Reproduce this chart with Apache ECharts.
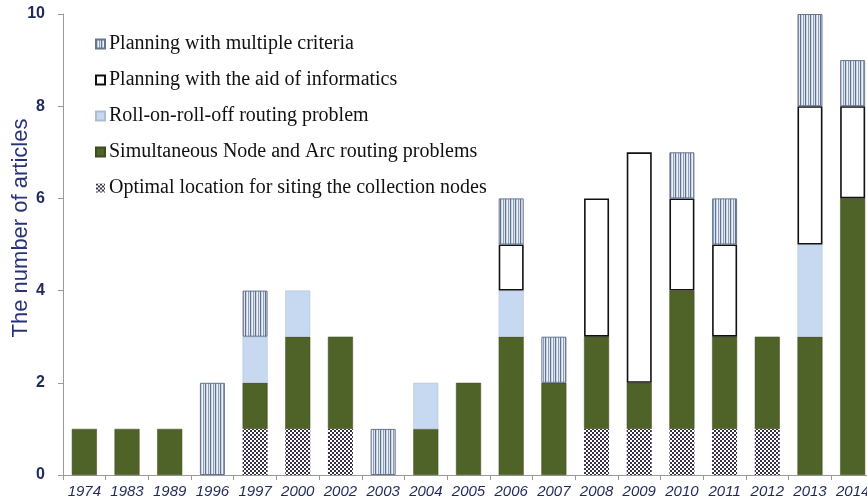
<!DOCTYPE html>
<html>
<head>
<meta charset="utf-8">
<script src="https://cdn.jsdelivr.net/npm/echarts@6/dist/echarts.min.js"></script>
<style>
  html, body { margin: 0; padding: 0; background: #fff; }
  #chart { width: 867px; height: 499px; }
</style>
</head>
<body>
<div id="chart"></div>
<script>
// Publication years (categories along the x axis)
const years = ['1974','1983','1989','1996','1997','2000','2002','2003','2004','2005',
               '2006','2007','2008','2009','2010','2011','2012','2013','2014'];

// Number of articles per research topic and year (stacked bottom to top)
const optimalLocation = [0,0,0,0,1,1,1,0,0,0,0,0,1,1,1,1,1,0,0];
const nodeArcRouting  = [1,1,1,0,1,2,2,0,1,2,3,2,2,1,3,2,2,3,6];
const rollOnRollOff   = [0,0,0,0,1,1,0,0,1,0,1,0,0,0,0,0,0,2,0];
const informatics     = [0,0,0,0,0,0,0,0,0,0,1,0,3,5,2,2,0,3,2];
const multiCriteria   = [0,0,0,2,1,0,0,1,0,0,1,1,0,0,1,1,0,2,1];

const yTicks = [0, 2, 4, 6, 8, 10];
const yTitle = 'The number of articles';

// Fill patterns
function stripePattern() {
  const c = document.createElement('canvas');
  c.width = 5; c.height = 4;
  const g = c.getContext('2d');
  const cols = ['#61728f', '#c9d4e4', '#eef2f8', '#8e9eb8', '#dde5f0'];
  cols.forEach((col, i) => { g.fillStyle = col; g.fillRect(i, 0, 1, 4); });
  return { image: c, repeat: 'repeat' };
}
function checkerPattern() {
  const c = document.createElement('canvas');
  c.width = 4; c.height = 4;
  const g = c.getContext('2d');
  g.fillStyle = '#ffffff'; g.fillRect(0, 0, 4, 4);
  g.fillStyle = '#3a3049';
  g.fillRect(0, 0, 2, 2); g.fillRect(2, 2, 2, 2);
  return { image: c, repeat: 'repeat' };
}

const BAR_W = 25;
function barSeries(name, data, style) {
  return {
    name: name,
    type: 'bar',
    stack: 'total',
    barWidth: BAR_W,
    data: data.map(v => v === 0 ? '-' : v),
    itemStyle: style,
    emphasis: { disabled: true }
  };
}

const chart = echarts.init(document.getElementById('chart'), null, { renderer: 'canvas' });

const series = [
  barSeries('Optimal location for siting the collection nodes', optimalLocation,
    { color: checkerPattern(), borderWidth: 0 }),
  barSeries('Simultaneous Node and Arc routing problems', nodeArcRouting,
    { color: '#4f6228', borderColor: '#3e4f1e', borderWidth: 0.5 }),
  barSeries('Roll-on-roll-off routing problem', rollOnRollOff,
    { color: '#c6d9f1', borderColor: '#aebdd0', borderWidth: 0.5 }),
  barSeries('Planning with the aid of informatics', informatics,
    { color: '#ffffff', borderColor: '#111111', borderWidth: 1.6 }),
  barSeries('Planning with multiple criteria', multiCriteria,
    { color: stripePattern(), borderColor: '#66758c', borderWidth: 1 })
];

chart.setOption({
  animation: false,
  backgroundColor: '#ffffff',
  // plot area runs past the right edge, so the last bar is cut off
  grid: { left: 63, right: -7, top: 14, bottom: 24, containLabel: false, outerBoundsMode: 'none' },
  // vertical y-axis title
  graphic: [{
    type: 'text',
    x: 21,
    y: 228,
    rotation: Math.PI / 2,
    style: {
      text: yTitle,
      fontFamily: '"Liberation Sans", Arial, sans-serif',
      fontSize: 22,
      fill: '#28327a',
      align: 'center',
      verticalAlign: 'middle'
    }
  }],
  legend: {
    orient: 'vertical',
    left: 90,
    top: 29,
    itemWidth: 9,
    itemHeight: 9,
    itemGap: 16,
    icon: 'rect',
    data: [
      'Planning with multiple criteria',
      'Planning with the aid of informatics',
      'Roll-on-roll-off routing problem',
      'Simultaneous Node and Arc routing problems',
      'Optimal location for siting the collection nodes'
    ],
    textStyle: {
      fontFamily: '"Liberation Serif", "DejaVu Serif", serif',
      fontSize: 20,
      color: '#111111',
      padding: [0, 0, 0, -1]
    }
  },
  xAxis: {
    type: 'category',
    data: years,
    axisLine: { lineStyle: { color: '#9a9a9a', width: 1 } },
    axisTick: { show: true, length: 5, lineStyle: { color: '#9a9a9a' } },
    axisLabel: {
      interval: 0,
      hideOverlap: false,
      fontFamily: '"Liberation Sans", Arial, sans-serif',
      fontStyle: 'italic',
      fontSize: 15,
      color: '#1f2a5c',
      margin: 9
    }
  },
  yAxis: {
    type: 'value',
    min: yTicks[0],
    max: yTicks[yTicks.length - 1],
    interval: yTicks[1] - yTicks[0],
    axisLine: { show: true, lineStyle: { color: '#9a9a9a', width: 1 } },
    axisTick: { show: true, length: 5, lineStyle: { color: '#9a9a9a' } },
    splitLine: { show: false },
    axisLabel: {
      fontFamily: '"Liberation Sans", Arial, sans-serif',
      fontWeight: 'bold',
      fontSize: 16,
      color: '#1f2a5c',
      margin: 18
    }
  },
  series: series
});
</script>
</body>
</html>
